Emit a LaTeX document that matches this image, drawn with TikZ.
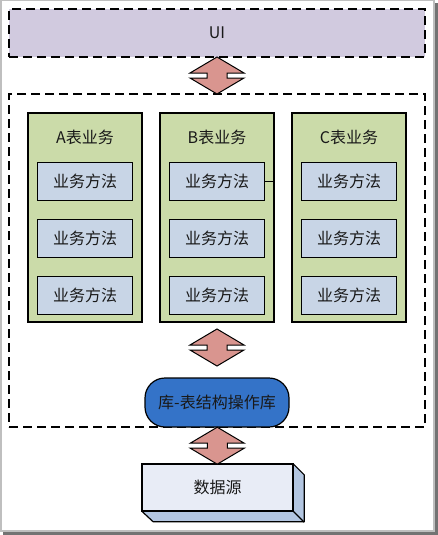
\documentclass[tikz,border=0pt]{standalone}
\usepackage{fontspec}
\setmainfont{Noto Sans CJK SC}
\usetikzlibrary{positioning,calc}

\definecolor{uiFill}{HTML}{D1CADF}
\definecolor{tableFill}{HTML}{CBDBA9}
\definecolor{methodFill}{HTML}{C8D5E6}
\definecolor{libFill}{HTML}{3473C8}
\definecolor{arrowFill}{HTML}{D9958F}
\definecolor{dsFront}{HTML}{E8ECF6}
\definecolor{dsSide}{HTML}{B3C6E1}

\tikzset{
  dblArrow/.pic={
    \draw[fill=arrowFill,line width=1pt] (0,-18.5) -- (27,-2.5) -- (10,-2.5) -- (10,2.5) -- (27,2.5)
      -- (0,18.5) -- (-27,2.5) -- (-10,2.5) -- (-10,-2.5) -- (-27,-2.5) -- cycle;
  }
}

\begin{document}
\begin{tikzpicture}[x=1pt,y=-1pt,
  every node/.style={font=\fontsize{16}{19}\selectfont,text=black!90},
  layer/.style={draw,dash pattern=on 9pt off 5pt,line width=1.5pt,inner sep=0pt},
  table/.style={draw,line width=1.2pt,fill=tableFill,minimum width=114pt,minimum height=209pt,inner sep=0pt},
  method/.style={draw,line width=1.2pt,fill=methodFill,minimum width=95pt,minimum height=38pt,inner sep=0pt}]
  % frame
  \fill[black!55] (3,3) rectangle (438,535);
  \draw[black!25,line width=1.5pt,fill=white] (0.75,0.75) rectangle (434,531);
  \useasboundingbox (0,0) rectangle (438,535);
  % layers
  \node[layer,fill=uiFill,minimum width=416pt,minimum height=48pt] (UI) at (217,33) {UI};
  \node[layer,minimum width=416pt,minimum height=333pt] (core) at (217,260.5) {};
  % tables
  \foreach \t/\x in {A/85,B/217,C/349}{
    \node[table] (\t) at (\x,217.5) {};
    \node (\t h) at (\x,137) {\t 表业务};
    \node[method] (\t1) at (\x,181.5) {业务方法};
    \node[method,below=17.8pt of \t1] (\t2) {业务方法};
    \node[method,below=17.8pt of \t2] (\t3) {业务方法};
  }
  \draw[line width=1pt] (B1.east) -- (B1.east -| B.east);
  % library
  \node[draw,line width=1.2pt,fill=libFill,rounded corners=20pt,minimum width=144pt,minimum height=49pt] (Lib) at (217,402.5) {库-表结构操作库};
  % data source
  \node[minimum width=151pt,minimum height=47pt,inner sep=0pt] (DS) at (217.5,487.5) {};
  \draw[line width=1.2pt,fill=dsSide,line join=round] (DS.north east) -- ++(11,11) -- ++(0,47) -- ++(-151,0) -- (DS.south west) -- cycle;
  \draw[line width=1.2pt] (DS.south east) -- ++(11,11);
  \node[draw,line width=1.2pt,fill=dsFront,minimum width=151pt,minimum height=47pt,inner sep=0pt] at (DS) {数据源};
  % arrows
  \pic at ($(UI.south)!0.5!(core.north)$) {dblArrow};
  \pic at (217,347.5) {dblArrow};
  \pic at ($(Lib.south)!0.5!(DS.north)$) {dblArrow};
\end{tikzpicture}
\end{document}
